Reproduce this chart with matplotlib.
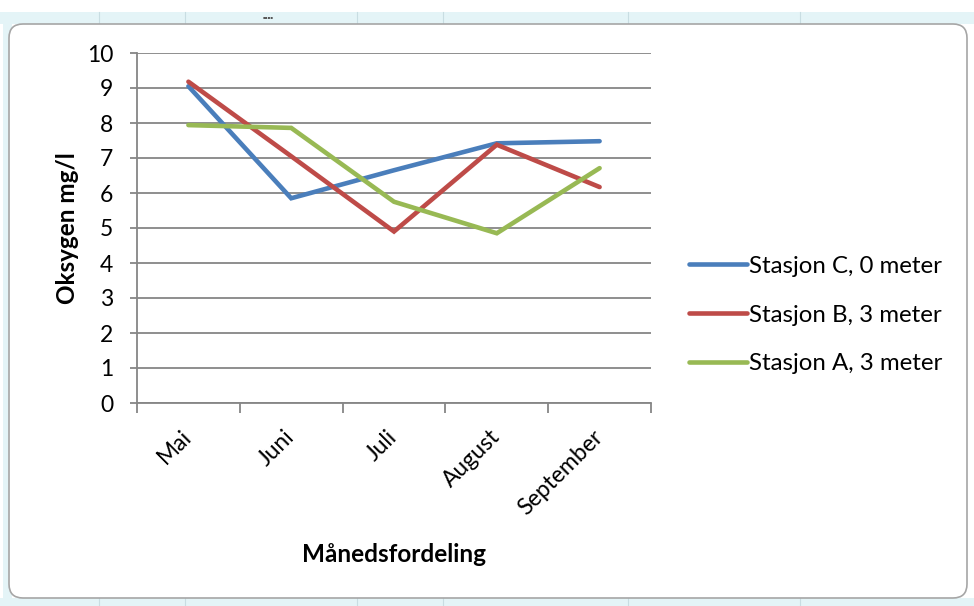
import matplotlib
matplotlib.use('Agg')
import matplotlib.pyplot as plt
from matplotlib.patches import FancyBboxPatch, Rectangle
from matplotlib.lines import Line2D

# Data
months = ['Mai', 'Juni', 'Juli', 'August', 'September']
stasjon_c = [9.05, 5.85, 6.65, 7.42, 7.48]
stasjon_b = [9.18, 7.05, 4.9, 7.38, 6.17]
stasjon_a = [7.94, 7.86, 5.75, 4.85, 6.71]
labels = ['Stasjon C, 0 meter', 'Stasjon B, 3 meter', 'Stasjon A, 3 meter']
colors = ['#4a7ebb', '#be4b48', '#98b954']

plt.rcParams['font.family'] = ['Lato', 'DejaVu Sans']

W, H = 974, 606
fig = plt.figure(figsize=(W / 100, H / 100), dpi=100)

# spreadsheet background behind the chart (pixel coordinates, y from top)
def px_rect(x0, y0, x1, y1, **kw):
    return Rectangle((x0, H - y1), x1 - x0, y1 - y0, transform=None, zorder=-5, **kw)

fig.patches.append(px_rect(0, 12, W, 24, facecolor='#e4f4f7', edgecolor='none'))
fig.patches.append(px_rect(3, 12, 12, H, facecolor='#e4f4f7', edgecolor='none'))
fig.patches.append(px_rect(0, 598, W, H, facecolor='#e4f4f7', edgecolor='none'))
for gx in [99, 185, 357, 443, 628, 800]:
    fig.lines.append(Line2D([gx, gx], [H - 24, H - 12], transform=None, color='#c8dde2', lw=0.8, zorder=-4))
    fig.lines.append(Line2D([gx, gx], [0, H - 598], transform=None, color='#c8dde2', lw=0.8, zorder=-4))
fig.text(268 / W, 1 - 17 / H, '\u25aa\u25aa\u25aa\u25aa', fontsize=3, color='#555555',
         ha='center', va='center', family='DejaVu Sans')

# chart area with rounded corners
fig.patches.append(FancyBboxPatch((9, H - 598), 958, 574, transform=None,
                                  boxstyle='round,pad=0,rounding_size=14', zorder=-3,
                                  facecolor='white', edgecolor='#a6a6a6', lw=1.2))

ax = fig.add_axes([137 / W, (H - 403) / H, (651 - 137) / W, (403 - 53) / H])
ax.set_facecolor('none')

x = list(range(len(months)))
for vals, lab, col in zip([stasjon_c, stasjon_b, stasjon_a], labels, colors):
    ax.plot(x, vals, color=col, lw=3.3, label=lab, solid_capstyle='round', solid_joinstyle='miter')

ax.set_xlim(-0.5, len(months) - 0.5)
ax.set_ylim(0, 10)
ax.set_yticks(range(0, 11))
ax.yaxis.grid(True, color='#868686', lw=1.3)
ax.set_axisbelow(True)
for s in ['top', 'right']:
    ax.spines[s].set_visible(False)
for s in ['left', 'bottom']:
    ax.spines[s].set_color('#868686')
    ax.spines[s].set_linewidth(1.3)

ax.tick_params(axis='y', length=5, width=1.3, color='#868686', labelsize=16.5, pad=12)
ax.set_xticks([i - 0.5 for i in range(len(months) + 1)])
ax.set_xticklabels([])
ax.tick_params(axis='x', which='major', length=7, width=1.3, color='#868686')
ax.set_xticks(x, minor=True)
ax.set_xticklabels(months, minor=True, rotation=45, ha='right', va='center',
                   rotation_mode='anchor', fontsize=16.5)
ax.tick_params(axis='x', which='minor', length=0, pad=22)

ax.set_ylabel('Oksygen mg/l', fontsize=17.5, fontweight='bold')
ax.yaxis.set_label_coords(-0.113, 0.5)
ax.set_xlabel('Månedsfordeling', fontsize=17.5, fontweight='bold')
ax.xaxis.set_label_coords(0.5, -0.40)

fig.legend(loc='center left', bbox_to_anchor=(689 / W, 1 - 315 / H), frameon=False,
           fontsize=17.3, handlelength=2.4, handletextpad=0.1, labelspacing=1.15,
           borderpad=0, borderaxespad=0)

fig.savefig('out.png', dpi=100)
